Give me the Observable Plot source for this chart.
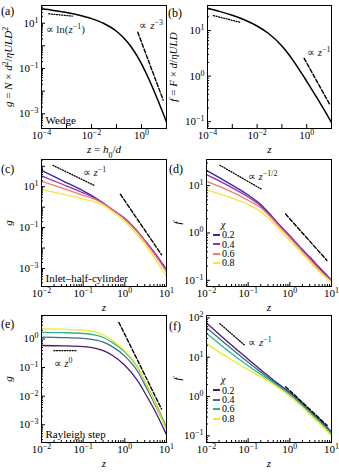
<!DOCTYPE html>
<html><head><meta charset="utf-8">
<script src="https://cdn.jsdelivr.net/npm/d3@7"></script>
<script src="https://cdn.jsdelivr.net/npm/@observablehq/plot@0.6"></script>
<style>
body{margin:0;background:#fff;}
#root{position:relative;width:339px;height:473px;font-family:"Liberation Serif","Times New Roman",Times,serif;color:#000;overflow:hidden;background:#fff}
.panel{position:absolute}
.plabel{position:absolute;font-size:12px;line-height:12px;white-space:nowrap}
.lrow{position:absolute;font-size:10px;line-height:8px;height:8px;white-space:nowrap}
.sw{display:inline-block;width:7px;height:2px;vertical-align:middle;margin-right:2px;position:relative;top:-1px}
</style></head><body><div id="root"></div>
<script>
// ---------- data ----------
const zWedge = [1e-4, 3e-4, 1e-3, 3e-3, 1e-2, 3e-2, 0.1, 0.2, 0.3, 0.5, 0.7, 1, 1.5, 2, 3, 5, 7, 10];
const gWedge = [43, 36.7, 29.5, 22.9, 15.9, 9.9, 4.39, 2.18, 1.30, 0.59, 0.324, 0.159, 0.065, 0.0328, 0.0118, 0.0030, 0.00119, 0.00043];
const fWedge = [30.8, 26.4, 21.6, 17.3, 12.6, 8.5, 4.6, 2.88, 2.11, 1.39, 1.05, 0.77, 0.54, 0.42, 0.294, 0.184, 0.134, 0.0955];

const zChi = [0.01, 0.0316, 0.1, 0.2, 0.316, 0.5, 1, 2, 3.16, 5, 10];
const chiLabels = ["0.2", "0.4", "0.6", "0.8"];

const gInlet02 = [63.1, 20.0, 6.31, 2.82, 1.51, 0.76, 0.282, 0.066, 0.0209, 0.0063, 0.00089];
const gInlet04 = [33.9, 13.2, 5.01, 2.63, 1.48, 0.76, 0.282, 0.066, 0.0209, 0.0063, 0.00089];
const gInlet06 = [18.6, 8.51, 3.80, 2.34, 1.38, 0.741, 0.251, 0.0603, 0.0186, 0.00537, 0.000676];
const gInlet08 = [7.41, 4.37, 2.51, 1.78, 1.20, 0.631, 0.200, 0.0447, 0.0135, 0.00355, 0.000417];

const fInlet02 = [20.9, 11.7, 6.31, 3.98, 2.63, 1.66, 0.871, 0.447, 0.295, 0.191, 0.100];
const fInlet04 = [17.0, 10.2, 5.75, 3.72, 2.51, 1.62, 0.851, 0.437, 0.282, 0.182, 0.0977];
const fInlet06 = [12.3, 8.13, 4.90, 3.39, 2.34, 1.51, 0.794, 0.407, 0.263, 0.170, 0.0955];
const fInlet08 = [8.13, 5.89, 3.98, 2.82, 2.00, 1.32, 0.692, 0.363, 0.234, 0.155, 0.0912];

const gRay02 = [0.589, 0.575, 0.537, 0.468, 0.380, 0.269, 0.120, 0.0355, 0.0117, 0.00355, 0.00045];
const gRay04 = [1.15, 1.12, 1.05, 0.912, 0.759, 0.537, 0.251, 0.0759, 0.0219, 0.00603, 0.00071];
const gRay06 = [1.70, 1.66, 1.55, 1.35, 1.10, 0.759, 0.347, 0.105, 0.0282, 0.00759, 0.00081];
const gRay08 = [2.24, 2.19, 2.04, 1.74, 1.35, 0.891, 0.380, 0.112, 0.0282, 0.00708, 0.00063];

const fRay02 = [74.1, 25.1, 8.91, 4.79, 3.24, 2.19, 1.26, 0.661, 0.417, 0.263, 0.126];
const fRay04 = [56.2, 20.0, 7.41, 4.17, 2.95, 2.04, 1.20, 0.631, 0.398, 0.251, 0.120];
const fRay06 = [40.7, 15.1, 6.03, 3.63, 2.69, 1.91, 1.12, 0.589, 0.372, 0.234, 0.112];
const fRay08 = [21.9, 10.0, 4.79, 3.16, 2.40, 1.74, 1.02, 0.537, 0.339, 0.214, 0.100];

const plasmaColors = ["#2d2d9f", "#9a2bb5", "#f07c6c", "#f7e43c"];
const viridisColors = ["#4a1a6b", "#3a6b9b", "#2fb585", "#ede91f"];

// guide lines (dotted = small-z asymptote, dashed = large-z asymptote)
const guideAdotted = [[1.95e-4, 26], [1.7e-3, 20.4]];
const guideAdashed = [[0.71, 4.0], [7.4, 0.004]];
const guideBdotted = [[1.74e-4, 21.4], [2.14e-3, 15.1]];
const guideBdashed = [[0.79, 2.45], [8.3, 0.245]];
const guideCdotted = [[0.019, 110], [0.19, 11.2]];
const guideCdashed = [[0.78, 4.3], [7.6, 0.0047]];
const guideDdotted = [[0.0209, 26.9], [0.204, 8.5]];
const guideDdashed = [[0.79, 2.51], [7.76, 0.263]];
const guideEdotted = [[0.02, 0.39], [0.072, 0.39]];
const guideEdashed = [[0.72, 3.8], [7.6, 0.00355]];
const guideFdotted = [[0.021, 71], [0.083, 20]];
const guideFdashed = [[0.79, 1.78], [7.9, 0.182]];

// annotations: [z, value, text]
const notesA = [[1.45e-4, 5.3, "∝ ln(*z*^{−1})"], [0.83, 7.9, "∝ *z*^{−3}"]];
const notesB = [[1.02, 3.3, "∝ *z*^{−1}"]];
const notesC = [[0.098, 52, "∝ *z*^{−1}"]];
const notesD = [[0.098, 15.8, "∝ *z*^{−1/2}"]];
const notesE = [[0.0195, 0.138, "∝ *z*^{0}"]];
const notesF = [[0.1, 24, "∝ *z*^{−1}"]];

const xTicksWide = [1e-4, 1e-3, 1e-2, 1e-1, 1, 10];
const xLabelsWide = [1e-4, 1e-2, 1];
const xTicksNarrow = [0.01, 0.1, 1, 10];

// ---------- helpers ----------
const FONT = '"Liberation Serif","Times New Roman",Times,serif';
const NS = "http://www.w3.org/2000/svg";

function fmtPow(d) {
  const e = Math.round(Math.log10(d));
  return "10^{" + (e < 0 ? "−" + (-e) : String(e)) + "}";
}
function minorTicks([lo, hi]) {
  const out = [];
  for (let e = Math.floor(Math.log10(lo)); e <= Math.ceil(Math.log10(hi)); e++)
    for (let m = 2; m <= 9; m++) { const v = m * Math.pow(10, e); if (v > lo && v < hi) out.push(v); }
  return out;
}
function decades([lo, hi]) {
  const out = [];
  for (let e = Math.ceil(Math.log10(lo) - 1e-9); e <= Math.floor(Math.log10(hi) + 1e-9); e++) out.push(Math.pow(10, e));
  return out;
}
function parseMarkup(s, base = {}) {
  const segs = []; let italic = false, buf = "", i = 0;
  const flush = () => { if (buf) { segs.push({t: buf, italic, ...base}); buf = ""; } };
  while (i < s.length) {
    const c = s[i];
    if (c === "*") { flush(); italic = !italic; i++; }
    else if ((c === "^" || c === "_") && s[i + 1] === "{") {
      flush();
      const j = s.indexOf("}", i);
      const inner = parseMarkup(s.slice(i + 2, j), c === "^" ? {sup: true} : {sub: true});
      inner.forEach(g => { if (italic) g.italic = true; segs.push(g); });
      i = j + 1;
    } else { buf += c; i++; }
  }
  flush();
  return segs;
}
function applyMarkup(svg) {
  svg.querySelectorAll("text").forEach(t => {
    if (t.children.length) return;
    const s = t.textContent;
    if (!/[\*\^_]/.test(s)) return;
    const segs = parseMarkup(s);
    t.textContent = "";
    segs.forEach(g => {
      const ts = document.createElementNS(NS, "tspan");
      ts.textContent = g.t;
      let st = "";
      if (g.italic) st += "font-style:italic;";
      if (g.sup) st += "font-size:72%;baseline-shift:super;";
      if (g.sub) st += "font-size:72%;baseline-shift:sub;";
      if (st) ts.setAttribute("style", st);
      t.appendChild(ts);
    });
  });
}
function pairs(zs, vs) { return zs.map((z, i) => ({z, v: vs[i]})); }

function panel(cfg) {
  const {left, top, width, height, mL, mR, mT, mB, xDomain, yDomain, xMajor, xLabeled, xMinor,
         yLabeled, series, colors, dotted, dashed, notes, xLabel, yLabel, yLabelDx, boxLabel} = cfg;
  const W = width - mL - mR, H = height - mT - mB;
  const yMajor = decades(yDomain);
  const marks = [];
  series.forEach((vals, k) => marks.push(Plot.line(pairs(cfg.zs, vals), {
    x: "z", y: "v", stroke: colors ? colors[k] : "#000", strokeWidth: colors ? 1.3 : 1.5,
    curve: "monotone-x", clip: true
  })));
  marks.push(Plot.line(dotted, {x: d => d[0], y: d => d[1], stroke: "#000", strokeWidth: 1.3, strokeDasharray: "1,1.6", clip: true}));
  marks.push(Plot.line(dashed, {x: d => d[0], y: d => d[1], stroke: "#000", strokeWidth: 1.4, strokeDasharray: "4,2", clip: true}));
  marks.push(Plot.text(notes, {x: d => d[0], y: d => d[1], text: d => d[2], textAnchor: "start", lineAnchor: "middle", fontSize: 11, fill: "#222"}));
  if (boxLabel) marks.push(Plot.text([boxLabel], {text: d => d, frameAnchor: "bottom-left", dx: 4, dy: -5, textAnchor: "start", lineAnchor: "bottom", fontSize: 11}));
  // inward ticks
  marks.push(Plot.ruleX(xMajor, {x: d => d, insetTop: H - 4, stroke: "#000"}));
  if (xMinor.length) marks.push(Plot.ruleX(xMinor, {x: d => d, insetTop: H - 2, stroke: "#000"}));
  marks.push(Plot.ruleY(yMajor, {y: d => d, insetRight: W - 4, stroke: "#000"}));
  marks.push(Plot.ruleY(minorTicks(yDomain), {y: d => d, insetRight: W - 2, stroke: "#000"}));
  marks.push(Plot.axisX({ticks: xLabeled, tickSize: 0, tickPadding: 3, tickFormat: fmtPow, label: null, fontSize: 11}));
  marks.push(Plot.axisY({ticks: yLabeled, tickSize: 0, tickPadding: 3, tickFormat: fmtPow, label: null, fontSize: 11}));
  marks.push(Plot.text([xLabel], {text: d => d, frameAnchor: "bottom", dy: 21, textAnchor: "middle", lineAnchor: "middle", fontSize: 11}));
  marks.push(Plot.text([yLabel], {text: d => d, frameAnchor: "left", dx: -yLabelDx, rotate: -90, textAnchor: "middle", lineAnchor: "middle", fontSize: 11}));
  marks.push(Plot.frame({stroke: "#000", strokeWidth: 1}));
  const svg = Plot.plot({
    width, height, marginLeft: mL, marginRight: mR, marginTop: mT, marginBottom: mB,
    x: {type: "log", domain: xDomain},
    y: {type: "log", domain: yDomain},
    style: {fontFamily: FONT, fontSize: "11px", background: "transparent", color: "#000", overflow: "visible"},
    marks
  });
  applyMarkup(svg);
  const div = document.createElement("div");
  div.className = "panel";
  div.style.left = left + "px"; div.style.top = top + "px";
  div.appendChild(svg);
  document.getElementById("root").appendChild(div);
}

function label(text, x, y) {
  const d = document.createElement("div");
  d.className = "plabel"; d.textContent = text;
  d.style.left = x + "px"; d.style.top = y + "px";
  document.getElementById("root").appendChild(d);
}
function legend(x, yChi, yFirst, step, colors) {
  const root = document.getElementById("root");
  const h = document.createElement("div");
  h.className = "lrow"; h.innerHTML = "<i>χ</i>";
  h.style.left = (x + 8) + "px"; h.style.top = (yChi - 4) + "px";
  root.appendChild(h);
  chiLabels.forEach((c, i) => {
    const r = document.createElement("div");
    r.className = "lrow";
    r.innerHTML = `<span class="sw" style="background:${colors[i]}"></span>${c}`;
    r.style.left = x + "px"; r.style.top = (yFirst + i * step - 4) + "px";
    root.appendChild(r);
  });
}

// ---------- panels ----------
const wideX = [1e-4, 10], narrowX = [0.01, 10];
panel({left: 0, top: 0, width: 170, height: 160, mL: 41, mR: 4, mT: 5, mB: 32,
  xDomain: wideX, yDomain: [2.24e-4, 60.3], xMajor: xTicksWide, xLabeled: xLabelsWide, xMinor: [],
  yLabeled: [10, 0.1, 0.001], zs: zWedge, series: [gWedge], dotted: guideAdotted, dashed: guideAdashed,
  notes: notesA, xLabel: "*z* = *h*_{0}/*d*", yLabel: "*g* = *N* × *d*^{2}/*ηULD*^{2}", yLabelDx: 33, boxLabel: "Wedge"});
panel({left: 170, top: 0, width: 169, height: 160, mL: 37, mR: 8, mT: 5, mB: 32,
  xDomain: wideX, yDomain: [0.0708, 35.5], xMajor: xTicksWide, xLabeled: xLabelsWide, xMinor: [],
  yLabeled: [10, 1, 0.1], zs: zWedge, series: [fWedge], dotted: guideBdotted, dashed: guideBdashed,
  notes: notesB, xLabel: "*z*", yLabel: "*f* = *F* × *d*/*ηULD*", yLabelDx: 34});
panel({left: 0, top: 155, width: 170, height: 160, mL: 41, mR: 4, mT: 4, mB: 29,
  xDomain: narrowX, yDomain: [1.32e-4, 214], xMajor: xTicksNarrow, xLabeled: xTicksNarrow, xMinor: minorTicks(narrowX),
  yLabeled: [10, 0.1, 0.001], zs: zChi, series: [gInlet02, gInlet04, gInlet06, gInlet08], colors: plasmaColors,
  dotted: guideCdotted, dashed: guideCdashed, notes: notesC, xLabel: "*z*", yLabel: "*g*", yLabelDx: 33, boxLabel: "Inlet–half-cylinder"});
panel({left: 170, top: 155, width: 169, height: 160, mL: 36, mR: 8, mT: 4, mB: 29,
  xDomain: narrowX, yDomain: [0.0741, 35.5], xMajor: xTicksNarrow, xLabeled: xTicksNarrow, xMinor: minorTicks(narrowX),
  yLabeled: [10, 1, 0.1], zs: zChi, series: [fInlet02, fInlet04, fInlet06, fInlet08], colors: plasmaColors,
  dotted: guideDdotted, dashed: guideDdashed, notes: notesD, xLabel: "*z*", yLabel: "*f*", yLabelDx: 29});
panel({left: 0, top: 310, width: 170, height: 163, mL: 41, mR: 4, mT: 5, mB: 31,
  xDomain: narrowX, yDomain: [2.4e-4, 6.6], xMajor: xTicksNarrow, xLabeled: xTicksNarrow, xMinor: minorTicks(narrowX),
  yLabeled: [1, 0.1, 0.01, 0.001], zs: zChi, series: [gRay02, gRay04, gRay06, gRay08], colors: viridisColors,
  dotted: guideEdotted, dashed: guideEdashed, notes: notesE, xLabel: "*z*", yLabel: "*g*", yLabelDx: 33, boxLabel: "Rayleigh step"});
panel({left: 170, top: 310, width: 169, height: 163, mL: 36, mR: 8, mT: 5, mB: 31,
  xDomain: narrowX, yDomain: [0.0676, 115], xMajor: xTicksNarrow, xLabeled: xTicksNarrow, xMinor: minorTicks(narrowX),
  yLabeled: [100, 10, 1, 0.1], zs: zChi, series: [fRay02, fRay04, fRay06, fRay08], colors: viridisColors,
  dotted: guideFdotted, dashed: guideFdashed, notes: notesF, xLabel: "*z*", yLabel: "*f*", yLabelDx: 29});

label("(a)", 1, 5); label("(b)", 168, 7);
label("(c)", 1, 163); label("(d)", 169, 163);
label("(e)", 1, 318); label("(f)", 169, 320);
legend(213, 224.5, 235.2, 9.4, plasmaColors);
legend(213, 380.2, 390.6, 9.4, viridisColors);
</script></body></html>
